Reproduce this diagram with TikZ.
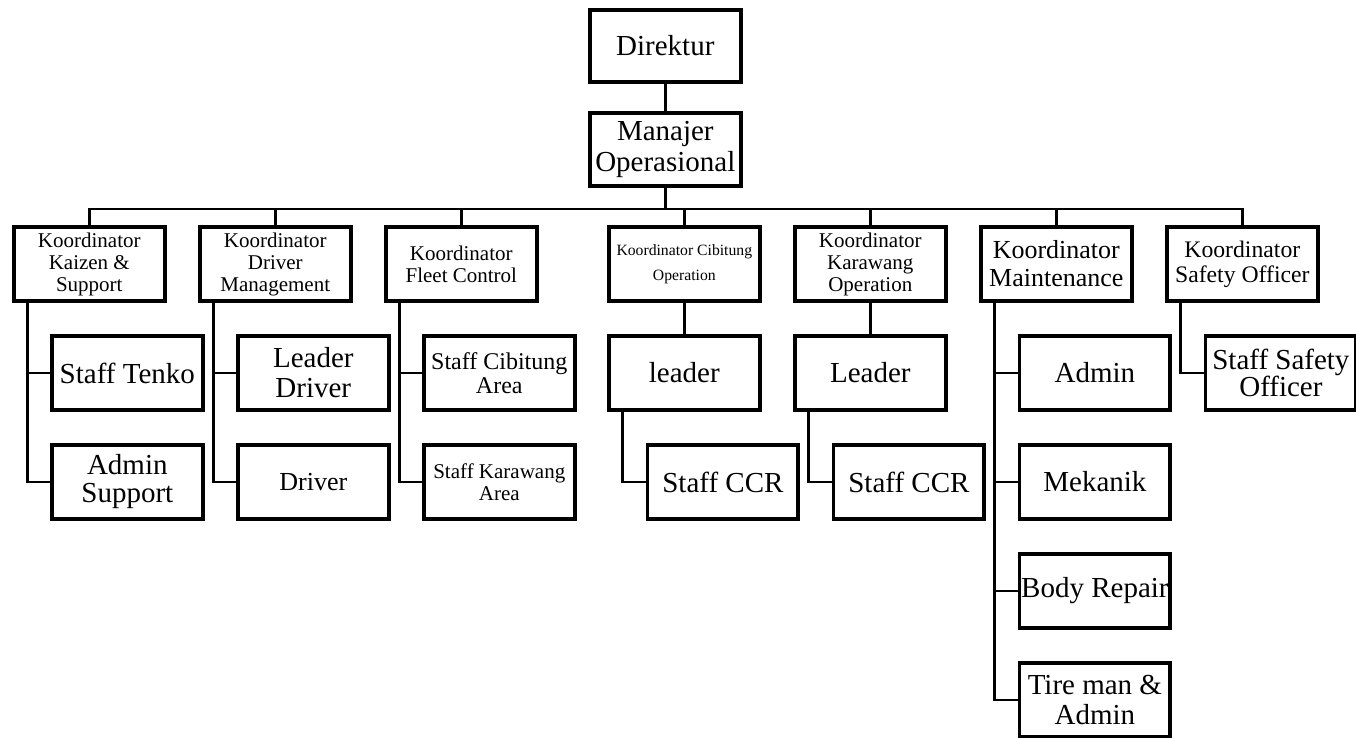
\documentclass[tikz,border=0pt]{standalone}
\usepackage{fontspec}
\setmainfont{Liberation Serif}
\begin{document}
\begin{tikzpicture}[x=1pt,y=-1pt,
  box/.style={draw, line width=3.8pt, rectangle, minimum width=150.7pt, minimum height=74.2pt, inner sep=0pt, align=center},
  conn/.style={line width=2.7pt},
  fbig/.style={font=\fontsize{29}{30}\selectfont},
  fk/.style={font=\fontsize{21}{22}\selectfont}]
\useasboundingbox (0,0) rectangle (1356,738);

% top
\node[box, fbig, minimum height=72.2pt] (dir) at (665.3,46) {Direktur};
\node[box, font=\fontsize{29}{31}\selectfont, minimum height=73.2pt] (man) at (665.3,149.5) {Manajer\\Operasional};

% koordinator row
\node[box, fk] (k1) at (89.3,264) {Koordinator\\Kaizen \&\\Support};
\node[box, fk] (k2) at (275.3,264) {Koordinator\\Driver\\Management};
\node[box, fk] (k3) at (461.3,264) {Koordinator\\Fleet Control};
\node[box, font=\fontsize{15.7}{25}\selectfont] (k4) at (684.3,264) {Koordinator Cibitung\\Operation};
\node[box, fk] (k5) at (870.3,264) {Koordinator\\Karawang\\Operation};
\node[box, font=\fontsize{26}{28}\selectfont] (k6) at (1056.3,264) {Koordinator\\Maintenance};
\node[box, font=\fontsize{23.7}{25}\selectfont] (k7) at (1242.3,264) {Koordinator\\Safety Officer};

% children
\node[box, fbig] (t1) at (127.3,373) {Staff Tenko};
\node[box, font=\fontsize{29}{28}\selectfont] (a1) at (127.3,482) {Admin\\Support};
\node[box, fbig] (t2) at (313.3,373) {Leader\\Driver};
\node[box, font=\fontsize{26}{28}\selectfont] (a2) at (313.3,482) {Driver};
\node[box, font=\fontsize{24}{24}\selectfont] (t3) at (499.3,373) {Staff Cibitung\\Area};
\node[box, font=\fontsize{21}{22}\selectfont] (a3) at (499.3,482) {Staff Karawang\\Area};
\node[box, fbig] (l4) at (684.3,373) {leader};
\node[box, fbig] (c4) at (722.9,482) {Staff CCR};
\node[box, fbig] (l5) at (870.3,373) {Leader};
\node[box, fbig] (c5) at (908.9,482) {Staff CCR};
\node[box, fbig] (m1) at (1094.9,373) {Admin};
\node[box, fbig] (m2) at (1094.9,482) {Mekanik};
\node[box, fbig] (m3) at (1094.9,591) {Body Repair};
\node[box, fbig] (m4) at (1094.9,700) {Tire man \&\\Admin};
\node[box, font=\fontsize{29}{26}\selectfont] (s1) at (1280.9,373) {Staff Safety\\Officer};

% connectors top
\coordinate (bus) at (665.3,209);
\draw[conn] (dir.south) -- (man.north);
\draw[conn] (man.south) -- (bus);
\draw[conn] (k1.north) -- (k1.north |- bus) -- (k7.north |- bus) -- (k7.north);
\foreach \k in {k2,k3,k4,k5,k6}{
  \draw[conn] (\k.north) -- (\k.north |- bus);
}

% connectors children
\draw[conn] ([xshift=15.6pt]k1.south west) |- (a1.west);
\draw[conn] ([xshift=15.6pt]k1.south west) |- (t1.west);
\draw[conn] ([xshift=15.6pt]k2.south west) |- (a2.west);
\draw[conn] ([xshift=15.6pt]k2.south west) |- (t2.west);
\draw[conn] ([xshift=15.6pt]k3.south west) |- (a3.west);
\draw[conn] ([xshift=15.6pt]k3.south west) |- (t3.west);
\draw[conn] (k4.south) -- (l4.north);
\draw[conn] ([xshift=15.6pt]l4.south west) |- (c4.west);
\draw[conn] (k5.south) -- (l5.north);
\draw[conn] ([xshift=15.6pt]l5.south west) |- (c5.west);
\draw[conn] ([xshift=15.6pt]k6.south west) |- (m4.west);
\draw[conn] ([xshift=15.6pt]k6.south west) |- (m1.west);
\draw[conn] ([xshift=15.6pt]k6.south west) |- (m2.west);
\draw[conn] ([xshift=15.6pt]k6.south west) |- (m3.west);
\draw[conn] ([xshift=15.6pt]k7.south west) |- (s1.west);
\end{tikzpicture}
\end{document}
